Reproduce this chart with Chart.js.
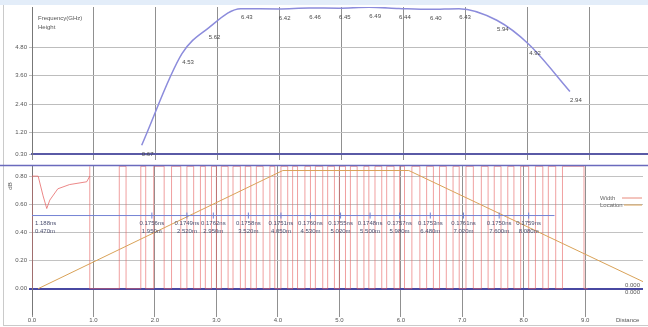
<!DOCTYPE html>
<html>
<head>
<meta charset="utf-8">
<script src="https://cdn.jsdelivr.net/npm/chart.js@4.4.1/dist/chart.umd.min.js"></script>
<style>
  html, body { margin: 0; padding: 0; background: #fff; }
  #wrap { position: relative; width: 648px; height: 327px; overflow: hidden; background: #fff; }
  #band { position: absolute; left: 0; top: 0; width: 648px; height: 5px; background: #e3edf9; }
  #edge { position: absolute; left: 3px; top: 5px; width: 1px; height: 320px; background: #cacaca; }
  #foot { position: absolute; left: 3px; top: 325px; width: 645px; height: 1px; background: #cacaca; }
  #top { position: absolute; left: 0; top: 0; }
  #bot { position: absolute; left: 0; top: 160px; }
</style>
</head>
<body>
<div id="wrap">
  <div id="band"></div><div id="edge"></div><div id="foot"></div>
  <canvas id="top" width="648" height="160" style="width:648px;height:160px"></canvas>
  <canvas id="bot" width="648" height="167" style="width:648px;height:167px"></canvas>
</div>
<script>
// ---------- upper panel: frequency curve along the distance axis ----------
const freqDist   = [1.77, 2.42, 2.85, 3.37, 3.98, 4.47, 4.95, 5.44, 5.92, 6.42, 6.89, 7.50, 8.02, 8.68];
const freqHeight = [0.67, 4.53, 5.62, 6.43, 6.42, 6.46, 6.45, 6.49, 6.44, 6.40, 6.43, 5.94, 4.92, 2.94];
const freqTicks  = [0.30, 1.20, 2.40, 3.60, 4.80];
const distTicks  = [0, 1, 2, 3, 4, 5, 6, 7, 8, 9];

// ---------- lower panel: pulse trace, location ramp, threshold ----------
const leftDist  = [0.00, 0.00, 0.10, 0.18, 0.24, 0.29, 0.42, 0.61, 0.89, 0.94];
const leftLevel = [0.00, 0.80, 0.80, 0.66, 0.57, 0.63, 0.71, 0.74, 0.76, 0.80];

const pulseDist = [
  0.94, 1.42, 1.53, 1.77, 1.85, 1.98, 2.15, 2.27, 2.42, 2.52, 2.63,
  2.74, 2.82, 2.92, 3.00, 3.08, 3.19, 3.27, 3.39, 3.47, 3.56,
  3.65, 3.76, 3.87, 3.95, 4.05, 4.16, 4.24, 4.32, 4.44, 4.53,
  4.61, 4.73, 4.81, 4.92, 5.00, 5.10, 5.18, 5.29, 5.40, 5.48,
  5.58, 5.69, 5.77, 5.89, 5.98, 6.06, 6.18, 6.31, 6.42, 6.53,
  6.63, 6.74, 6.85, 6.95, 7.06, 7.18, 7.31, 7.42, 7.52, 7.63,
  7.74, 7.84, 7.95, 8.08, 8.19, 8.31, 8.40, 8.52, 8.63, 8.98, 9.04
];
const pulseLevel = [
  0.87, 0.00, 0.87, 0.00, 0.87, 0.00, 0.87, 0.00, 0.87, 0.00, 0.87,
  0.00, 0.87, 0.00, 0.87, 0.00, 0.87, 0.00, 0.87, 0.00, 0.87,
  0.00, 0.87, 0.00, 0.87, 0.00, 0.87, 0.00, 0.87, 0.00, 0.87,
  0.00, 0.87, 0.00, 0.87, 0.00, 0.87, 0.00, 0.87, 0.00, 0.87,
  0.00, 0.87, 0.00, 0.87, 0.00, 0.87, 0.00, 0.87, 0.00, 0.87,
  0.00, 0.87, 0.00, 0.87, 0.00, 0.87, 0.00, 0.87, 0.00, 0.87,
  0.00, 0.87, 0.00, 0.87, 0.00, 0.87, 0.00, 0.87, 0.00, 0.87, 0.00
];

const locDist  = [0.10, 4.08, 6.13, 9.94];
const locLevel = [0.00, 0.84, 0.84, 0.05];

const thrDist  = [0.00, 8.50];
const thrLevel = [0.52, 0.52];

const groupDist    = [1.95, 2.52, 2.95, 3.52, 4.05, 4.53, 5.02, 5.50, 5.98, 6.48, 7.02, 7.60, 8.08];
const groupWidthNs = [0.1756, 0.1749, 0.1762, 0.1758, 0.1751, 0.1760, 0.1755, 0.1748, 0.1757, 0.1753, 0.1761, 0.1750, 0.1759];
const levelTicks   = [0.00, 0.20, 0.40, 0.60, 0.80];

const FONT = '"Liberation Sans", Arial, sans-serif';
Chart.defaults.font.family = FONT;
Chart.defaults.font.size = 6;
Chart.defaults.color = '#555';

const pts = (xs, ys) => xs.map((x, i) => ({ x, y: ys[i] }));

// value notes on the frequency curve + header text
const freqNotes = {
  id: 'freqNotes',
  afterDatasetsDraw(chart) {
    const { ctx, chartArea } = chart;
    const meta = chart.getDatasetMeta(0);
    ctx.save();
    ctx.font = '6px ' + FONT;
    ctx.fillStyle = '#4a4a4a';
    ctx.textAlign = 'center';
    ctx.textBaseline = 'middle';
    meta.data.forEach((p, i) => ctx.fillText(freqHeight[i].toFixed(2), p.x + 6, p.y + 9));
    ctx.textAlign = 'left';
    ctx.fillStyle = '#555';
    ctx.fillText('Frequency(GHz)', chartArea.left + 6, 18);
    ctx.fillText('Height', chartArea.left + 6, 27);
    ctx.restore();
  }
};

new Chart(document.getElementById('top'), {
  type: 'line',
  data: {
    datasets: [{
      data: pts(freqDist, freqHeight),
      borderColor: '#8c8cdc',
      borderWidth: 1.5,
      pointRadius: 0,
      cubicInterpolationMode: 'monotone'
    }]
  },
  options: {
    responsive: false,
    animation: false,
    layout: { padding: { top: 7, right: 0, bottom: 0, left: 0 } },
    plugins: { legend: { display: false }, tooltip: { enabled: false } },
    scales: {
      x: {
        type: 'linear', min: 0, max: 9.94,
        afterBuildTicks: s => { s.ticks = distTicks.map(v => ({ value: v })); },
        ticks: { display: false },
        grid: { color: '#909090', drawTicks: true, tickLength: 6 },
        border: { display: true, color: '#5a5aa6', width: 2 },
        afterFit: s => { s.height = 6; }
      },
      y: {
        min: 0.3, max: 6.5,
        afterBuildTicks: s => { s.ticks = freqTicks.map(v => ({ value: v })); },
        ticks: { padding: 2, callback: v => Number(v).toFixed(2) },
        grid: { color: '#bdbdbd', tickLength: 3 },
        border: { color: '#777', width: 1 },
        afterFit: s => { s.width = 32; }
      }
    }
  },
  plugins: [freqNotes]
});

// frame line, axis caption, legend and pulse annotations for the lower panel
const pulseNotes = {
  id: 'pulseNotes',
  afterDatasetsDraw(chart) {
    const { ctx, chartArea, scales } = chart;
    ctx.save();
    // top frame of the panel
    ctx.strokeStyle = '#6a6abd';
    ctx.lineWidth = 1.5;
    ctx.beginPath();
    ctx.moveTo(0, chartArea.top);
    ctx.lineTo(chart.width, chartArea.top);
    ctx.stroke();

    ctx.font = '6px ' + FONT;
    ctx.textBaseline = 'middle';

    // axis caption
    ctx.save();
    ctx.translate(10, 26);
    ctx.rotate(-Math.PI / 2);
    ctx.textAlign = 'center';
    ctx.fillStyle = '#555';
    ctx.fillText('dB', 0, 0);
    ctx.restore();

    // pulse width / location notes under the threshold line
    const yThr = scales.y.getPixelForValue(thrLevel[0]);
    ctx.fillStyle = '#4c5070';
    ctx.textAlign = 'center';
    groupDist.forEach((d, i) => {
      const x = scales.x.getPixelForValue(d);
      ctx.fillText(groupWidthNs[i].toFixed(4) + 'ns', x, yThr + 8);
      ctx.fillText(d.toFixed(3) + 'm', x, yThr + 16);
    });
    ctx.textAlign = 'left';
    ctx.fillText('1.188ns', chartArea.left + 3, yThr + 8);
    ctx.fillText('0.470m', chartArea.left + 3, yThr + 16);

    // legend
    const lx = 600, ly = 38;
    ctx.fillStyle = '#666';
    ctx.fillText('Width', lx, ly);
    ctx.fillText('Location', lx, ly + 7);
    ctx.lineWidth = 1;
    ctx.strokeStyle = '#e88a7c';
    ctx.beginPath(); ctx.moveTo(622, ly); ctx.lineTo(642, ly); ctx.stroke();
    ctx.strokeStyle = '#d9a258';
    ctx.beginPath(); ctx.moveTo(624, ly + 7); ctx.lineTo(642, ly + 7); ctx.stroke();

    // zero readouts at the right end of the baseline
    const y0 = scales.y.getPixelForValue(0);
    ctx.fillStyle = '#555';
    ctx.textAlign = 'right';
    ctx.fillText('0.000', 640, y0 - 3);
    ctx.fillText('0.000', 640, y0 + 4);

    // axis name
    ctx.textAlign = 'left';
    ctx.fillText('Distance', 616, chartArea.bottom + 6);
    ctx.restore();
  }
};

new Chart(document.getElementById('bot'), {
  type: 'line',
  data: {
    datasets: [
      {
        label: 'Threshold',
        data: pts(thrDist, thrLevel),
        borderColor: '#7484d4', borderWidth: 1, pointRadius: 0, order: 1
      },
      {
        label: 'Markers',
        data: groupDist.map(d => ({ x: d, y: thrLevel[0] })),
        showLine: false, pointStyle: 'line', rotation: 90, pointRadius: 3,
        borderColor: '#7484d4', borderWidth: 1, order: 0
      },
      {
        label: 'Location',
        data: pts(locDist, locLevel),
        borderColor: '#d9a258', borderWidth: 1, pointRadius: 0, order: 2
      },
      {
        label: 'Width',
        data: pts(pulseDist, pulseLevel),
        stepped: 'after',
        borderColor: 'rgba(230, 96, 96, 0.6)', borderWidth: 1, pointRadius: 0, order: 3
      },
      {
        label: 'Width start',
        data: pts(leftDist, leftLevel),
        borderColor: 'rgba(230, 96, 96, 0.75)', borderWidth: 1, pointRadius: 0, order: 3
      }
    ]
  },
  options: {
    responsive: false,
    animation: false,
    layout: { padding: { top: 3, right: 0, bottom: 0, left: 0 } },
    plugins: { legend: { display: false }, tooltip: { enabled: false } },
    scales: {
      x: {
        type: 'linear', min: 0, max: 9.94,
        afterBuildTicks: s => { s.ticks = distTicks.map(v => ({ value: v })); },
        ticks: { padding: 0, maxRotation: 0, callback: v => Number(v).toFixed(1) },
        grid: { color: '#909090', tickLength: 3 },
        border: { display: false },
        afterFit: s => { s.height = 13; }
      },
      y: {
        min: -0.18, max: 0.875,
        afterBuildTicks: s => { s.ticks = levelTicks.map(v => ({ value: v })); },
        ticks: { padding: 2, callback: v => Number(v).toFixed(2) },
        grid: {
          color: c => (c.tick && c.tick.value === 0) ? '#4848a2' : '#c2c2c2',
          lineWidth: c => (c.tick && c.tick.value === 0) ? 2 : 1,
          tickLength: 3
        },
        border: { color: '#777', width: 1 },
        afterFit: s => { s.width = 32; }
      }
    }
  },
  plugins: [pulseNotes]
});
</script>
</body>
</html>
